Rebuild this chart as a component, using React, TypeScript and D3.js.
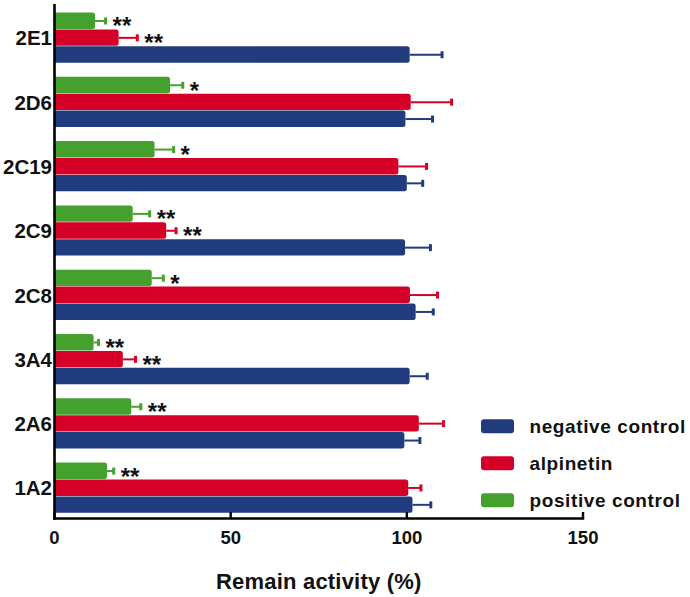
import React from "react";
import * as d3 from "d3";

const categories = ["2E1", "2D6", "2C19", "2C9", "2C8", "3A4", "2A6", "1A2"];
const seriesNames = ["positive control", "alpinetin", "negative control"];
const positiveValues = [11.5, 32.8, 28.4, 22.2, 27.6, 11.1, 21.8, 14.9];
const positiveErrors = [3.0, 3.6, 5.4, 4.8, 3.3, 1.4, 2.7, 1.9];
const alpinetinValues = [18.2, 101.1, 97.6, 31.7, 100.9, 19.4, 103.4, 100.4];
const alpinetinErrors = [5.3, 11.6, 8.0, 2.8, 7.8, 3.6, 7.0, 3.6];
const negativeValues = [100.8, 99.6, 100.0, 99.5, 102.5, 100.8, 99.3, 101.6];
const negativeErrors = [9.2, 7.7, 4.5, 7.2, 5.0, 5.0, 4.4, 5.2];
const positiveStars = ["**", "*", "*", "**", "*", "**", "**", "**"];
const alpinetinStars = ["**", "", "", "**", "", "**", "", ""];
const negativeStars = ["", "", "", "", "", "", "", ""];
const xTicks = [0, 50, 100, 150];
const legendOrder = ["negative control", "alpinetin", "positive control"];

const colors: Record<string, string> = {
  "negative control": "#213b7f",
  alpinetin: "#d50027",
  "positive control": "#45a12e",
};

const FONT = "'Liberation Sans', Arial, Helvetica, sans-serif";

export default function App() {
  const width = 690;
  const height = 597;
  const x0 = 54.5;
  const x1 = 583;
  const axisY = 518.5;

  const x = d3.scaleLinear().domain([0, 150]).range([x0, x1]);
  const y = d3
    .scaleBand<string>()
    .domain(categories)
    .range([5.7, 520.1])
    .paddingInner(0.212)
    .paddingOuter(0.106);
  const ySub = d3
    .scaleBand<string>()
    .domain(seriesNames)
    .range([0, y.bandwidth()]);

  const seriesData: Record<string, { v: number[]; e: number[]; s: string[] }> = {
    "positive control": { v: positiveValues, e: positiveErrors, s: positiveStars },
    alpinetin: { v: alpinetinValues, e: alpinetinErrors, s: alpinetinStars },
    "negative control": { v: negativeValues, e: negativeErrors, s: negativeStars },
  };

  const barPath = (xs: number, xe: number, yt: number, h: number, r: number) => {
    const p = d3.path();
    p.moveTo(xs, yt);
    p.lineTo(xe - r, yt);
    p.quadraticCurveTo(xe, yt, xe, yt + r);
    p.lineTo(xe, yt + h - r);
    p.quadraticCurveTo(xe, yt + h, xe - r, yt + h);
    p.lineTo(xs, yt + h);
    p.closePath();
    return p.toString();
  };

  const bh = ySub.bandwidth();

  return (
    <svg width={width} height={height} style={{ position: "absolute", left: 0, top: 0, background: "#fff" }}>
      {categories.map((c, i) => (
        <g key={c}>
          {seriesNames.map((s) => {
            const d = seriesData[s];
            const yt = (y(c) as number) + (ySub(s) as number);
            const yc = yt + bh / 2;
            const xv = x(d.v[i]);
            const xe = x(d.v[i] + d.e[i]);
            const col = colors[s];
            return (
              <g key={s}>
                <line x1={xv} x2={xe} y1={yc} y2={yc} stroke={col} strokeWidth={2} />
                <line x1={xe} x2={xe} y1={yc - 3.5} y2={yc + 3.5} stroke={col} strokeWidth={3} />
                <path d={barPath(x0, xv, yt, bh - 0.5, 2.5)} fill={col} />
                {d.s[i] && (
                  <text
                    x={xe + 7}
                    y={yc + 13.5}
                    fontFamily={FONT}
                    fontSize={24}
                    fontWeight="bold"
                    fill="#111"
                  >
                    {d.s[i]}
                  </text>
                )}
              </g>
            );
          })}
          <text
            x={52}
            y={(y(c) as number) + y.bandwidth() / 2 + 7.5}
            textAnchor="end"
            fontFamily={FONT}
            fontSize={20.5}
            fontWeight="bold"
            fill="#111"
          >
            {c}
          </text>
        </g>
      ))}

      {/* axes */}
      <line x1={x0} x2={x0} y1={4} y2={axisY + 1.2} stroke="#000" strokeWidth={2.6} />
      <line x1={x0 - 1.3} x2={x1 + 1.2} y1={axisY} y2={axisY} stroke="#000" strokeWidth={2.6} />
      {xTicks.map((t) => (
        <g key={t}>
          <line x1={x(t)} x2={x(t)} y1={axisY} y2={axisY - 6.5} stroke="#000" strokeWidth={2.4} />
          <text
            x={x(t)}
            y={543.5}
            textAnchor="middle"
            fontFamily={FONT}
            fontSize={18.5}
            fontWeight="bold"
            fill="#111"
          >
            {t}
          </text>
        </g>
      ))}
      <text
        x={(x0 + x1) / 2}
        y={588.5}
        textAnchor="middle"
        fontFamily={FONT}
        fontSize={22}
        fontWeight="bold"
        letterSpacing={0.2}
        fill="#111"
      >
        Remain activity (%)
      </text>

      {/* legend */}
      {legendOrder.map((s, i) => (
        <g key={s} transform={`translate(0, ${i * 37})`}>
          <rect x={481} y={419.3} width={33} height={14} rx={3} fill={colors[s]} />
          <text
            x={529.5}
            y={432.5}
            fontFamily={FONT}
            fontSize={19}
            fontWeight="bold"
            letterSpacing={0.6}
            fill="#111"
          >
            {s}
          </text>
        </g>
      ))}
    </svg>
  );
}
